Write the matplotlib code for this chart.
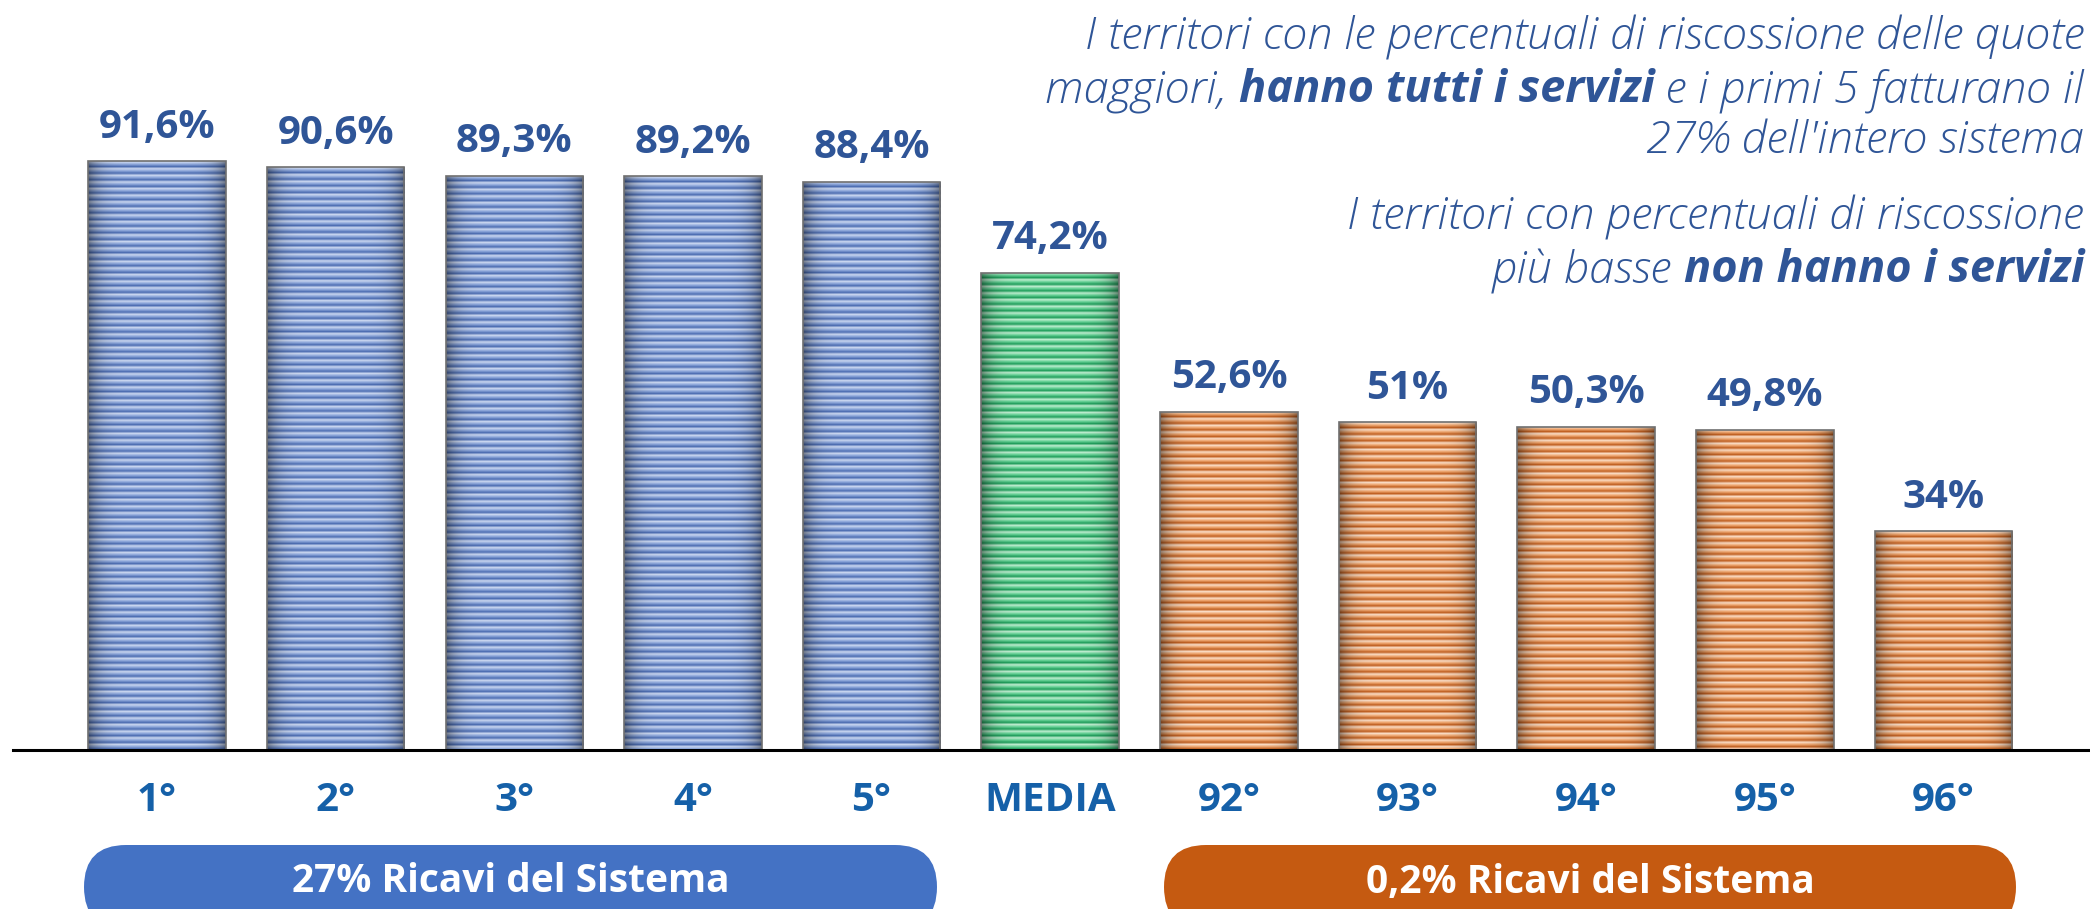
import matplotlib
matplotlib.use("Agg")
import matplotlib.pyplot as plt
import numpy as np
from matplotlib.patches import FancyBboxPatch
from matplotlib.transforms import IdentityTransform

# data
labels = ["1°", "2°", "3°", "4°", "5°", "MEDIA", "92°", "93°", "94°", "95°", "96°"]
values = [91.6, 90.6, 89.3, 89.2, 88.4, 74.2, 52.6, 51.0, 50.3, 49.8, 34.0]
value_text = ["91,6%", "90,6%", "89,3%", "89,2%", "88,4%", "74,2%",
              "52,6%", "51%", "50,3%", "49,8%", "34%"]
groups = ["top"] * 5 + ["mean"] + ["bottom"] * 5

stripes = {
    "top": ["#C9D6F0", "#8CA6DA", "#4F6FB3"],
    "mean": ["#BDEDCF", "#66D196", "#23A05E"],
    "bottom": ["#FBDCC4", "#EEA56E", "#C26224"],
}
text_blue = "#2F5597"
tick_blue = "#1560A8"

W, H = 2090, 909
fig = plt.figure(figsize=(W / 100, H / 100), dpi=100)
ax = fig.add_axes([13 / W, (H - 750) / H, 1 - 13 / W, 643 / H])

x = np.arange(len(values))
bars = ax.bar(x, values, width=0.77, facecolor="none", edgecolor="#6f6f6f",
              linewidth=1.2, zorder=3)

# striped fill with darker sides, clipped to each bar
px_per_unit = 643 / 100
for b, g in zip(bars, groups):
    h = b.get_height()
    nrows = max(int(h * px_per_unit / 2.2), 3)
    cols = np.array([np.array(matplotlib.colors.to_rgb(c)) for c in stripes[g]])
    rows = cols[np.arange(nrows) % 3]
    t = np.linspace(-1, 1, 60)
    shade = 1 - 0.4 * np.abs(t) ** 6
    img = rows[:, None, :] * shade[None, :, None]
    im = ax.imshow(img, extent=(b.get_x(), b.get_x() + b.get_width(), 0, h),
                   aspect="auto", interpolation="bilinear", zorder=2)
    im.set_clip_path(b)

ax.set_xlim(-0.806, 10.82)
ax.set_ylim(0, 100)

for b, s in zip(bars, value_text):
    ax.annotate(s, (b.get_x() + b.get_width() / 2, b.get_height()),
                xytext=(0, 34), textcoords="offset pixels", ha="center", va="center",
                fontsize=29, fontweight="bold", color=text_blue, family="Open Sans")

ax.axhline(0, color="black", lw=2.2, zorder=4, clip_on=False)
for s in ax.spines.values():
    s.set_visible(False)
ax.set_yticks([])
ax.set_xticks(x)
ax.set_xticklabels(labels, fontsize=29, fontweight="bold", color=tick_blue,
                   family="Open Sans")
ax.tick_params(axis="x", length=0, pad=22)

# group pills
pills = [(84, 937, "#4472C4", "27% Ricavi del Sistema"),
         (1164, 2016, "#C55A11", "0,2% Ricavi del Sistema")]
for x0, x1, c, s in pills:
    p = FancyBboxPatch((x0 + 42, 22), x1 - x0 - 84, 0,
                       boxstyle="round,pad=42,rounding_size=42",
                       transform=IdentityTransform(), facecolor=c, edgecolor="none")
    fig.add_artist(p)
    fig.text((x0 + x1) / 2 / W, 27 / H, s, ha="center", va="center", color="white",
             fontsize=28, fontweight="bold", family="Open Sans")

# right-aligned comment with mixed weights
lines = [
    (37, [("I territori con le percentuali di riscossione delle quote", "light")]),
    (91, [("maggiori, ", "light"), ("hanno tutti i servizi", "bold"),
          (" e i primi 5 fatturano il", "light")]),
    (141, [("27% dell'intero sistema", "light")]),
    (217, [("I territori con percentuali di riscossione", "light")]),
    (271, [("più basse ", "light"), ("non hanno i servizi", "bold")]),
]
fig.canvas.draw()
renderer = fig.canvas.get_renderer()
for ytop, parts in lines:
    xr = 2084
    for txt, wt in reversed(parts):
        t = fig.text(xr / W, 1 - ytop / H, txt, ha="right", va="center",
                     fontsize=32.5, fontstyle="italic", fontweight=wt,
                     family="Open Sans", color=text_blue)
        bb = t.get_window_extent(renderer)
        xr -= bb.width

fig.savefig("out.png", dpi=100)
